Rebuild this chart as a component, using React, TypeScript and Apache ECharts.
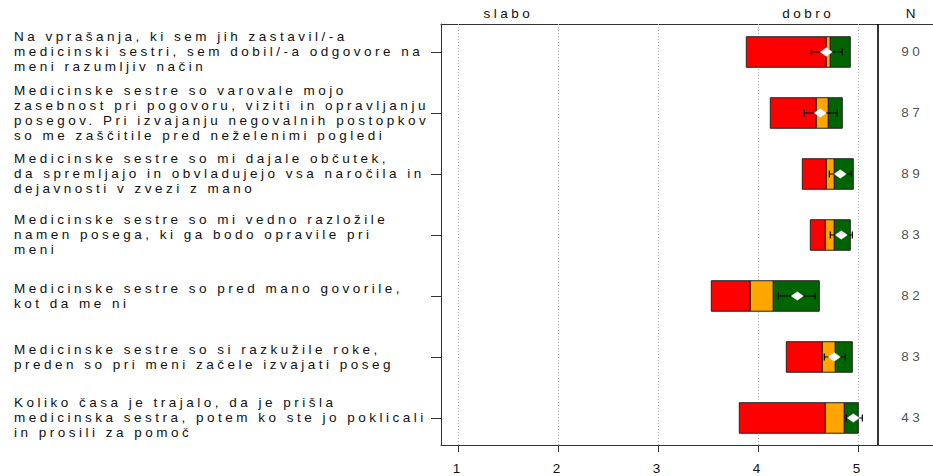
import React, { useEffect, useRef } from "react";
import * as echarts from "echarts";

// ---- data ----
const questionLabels: string[] = [
  "Na vprašanja, ki sem jih zastavil/-a\nmedicinski sestri, sem dobil/-a odgovore na\nmeni razumljiv način",
  "Medicinske sestre so varovale mojo\nzasebnost pri pogovoru, viziti in opravljanju\nposegov. Pri izvajanju negovalnih postopkov\nso me zaščitile pred neželenimi pogledi",
  "Medicinske sestre so mi dajale občutek,\nda spremljajo in obvladujejo vsa naročila in\ndejavnosti v zvezi z mano",
  "Medicinske sestre so mi vedno razložile\nnamen posega, ki ga bodo opravile pri\nmeni",
  "Medicinske sestre so pred mano govorile,\nkot da me ni",
  "Medicinske sestre so si razkužile roke,\npreden so pri meni začele izvajati poseg",
  "Koliko časa je trajalo, da je prišla\nmedicinska sestra, potem ko ste jo poklicali\nin prosili za pomoč",
];
const barStart: number[] = [3.88, 4.12, 4.44, 4.52, 3.53, 4.28, 3.81];
const redEnd: number[] = [4.68, 4.58, 4.68, 4.67, 3.92, 4.64, 4.67];
const orangeEnd: number[] = [4.72, 4.70, 4.76, 4.76, 4.15, 4.77, 4.86];
const greenEnd: number[] = [4.92, 4.84, 4.95, 4.92, 4.61, 4.94, 5.0];
const meanValues: number[] = [4.68, 4.62, 4.82, 4.83, 4.39, 4.76, 4.95];
const ciLow: number[] = [4.53, 4.46, 4.71, 4.72, 4.2, 4.66, 4.88];
const ciHigh: number[] = [4.84, 4.79, 4.93, 4.94, 4.57, 4.87, 5.04];
const nValues: number[] = [90, 87, 89, 83, 82, 83, 43];
const xTickValues: number[] = [1, 2, 3, 4, 5];
const headerLabels: string[] = ["slabo", "dobro", "N"];
const headerPositions: number[] = [1.5, 4.5, 5.54];
const separatorX = 5.19;
const nColumnX = 5.54;

const ROWS = questionLabels.length;
const rowY = (i: number) => ROWS - i;

export default function App() {
  const ref = useRef<HTMLDivElement>(null);
  useEffect(() => {
    if (!ref.current) return;
    const chart = echarts.init(ref.current, null, { renderer: "svg" });
    const barData = questionLabels.map((_, i) => [
      rowY(i),
      barStart[i],
      redEnd[i],
      orangeEnd[i],
      greenEnd[i],
      meanValues[i],
      ciLow[i],
      ciHigh[i],
    ]);
    const nData = nValues.map((n, i) => [nColumnX, rowY(i), n]);
    const font = "'Liberation Sans', Arial, Helvetica, sans-serif";
    const option: any = {
      animation: false,
      backgroundColor: "#ffffff",
      grid: { left: 441, right: 0, top: 24, bottom: 31, containLabel: false },
      xAxis: [
        {
          type: "value",
          position: "bottom",
          min: 0.827,
          max: 5.747,
          axisLine: { show: true, lineStyle: { color: "#333", width: 1 } },
          axisTick: { show: true, customValues: xTickValues, length: 7, lineStyle: { color: "#333" } },
          axisLabel: {
            show: true,
            customValues: xTickValues,
            margin: 16,
            fontSize: 13.5,
            fontFamily: font,
            color: "#111",
            formatter: (v: number) => String(Math.round(v)),
          },
          splitLine: { show: false },
        },
        {
          type: "value",
          position: "top",
          min: 0.827,
          max: 5.747,
          axisLine: { show: true, lineStyle: { color: "#333", width: 1 } },
          axisTick: { show: false },
          axisLabel: {
            show: true,
            customValues: headerPositions,
            margin: 4,
            fontSize: 13.5,
            fontFamily: font,
            color: "#111",
            formatter: (v: number) => {
              let best = 0;
              headerPositions.forEach((p, k) => {
                if (Math.abs(p - v) < Math.abs(headerPositions[best] - v)) best = k;
              });
              return headerLabels[best];
            },
          },
          splitLine: { show: false },
        },
      ],
      yAxis: {
        type: "value",
        min: 0.557,
        max: 7.459,
        axisLine: { show: true, lineStyle: { color: "#333", width: 1 } },
        axisTick: {
          show: true,
          customValues: questionLabels.map((_, i) => rowY(i)),
          length: 10,
          lineStyle: { color: "#333" },
        },
        axisLabel: {
          show: true,
          customValues: questionLabels.map((_, i) => rowY(i)),
          align: "left",
          margin: 427,
          fontSize: 13.5,
          lineHeight: 15,
          padding: [4, 0, 0, 0],
          fontFamily: font,
          color: "#111",
          formatter: (v: number) => questionLabels[ROWS - Math.round(v)] || "",
        },
        splitLine: { show: false },
      },
      series: [
        {
          type: "scatter",
          name: "N",
          xAxisIndex: 0,
          data: nData,
          symbolSize: 0,
          z: 1,
          silent: true,
          label: {
            show: true,
            position: "inside",
            fontSize: 13.5,
            fontFamily: font,
            color: "#222",
            formatter: (p: any) => String(p.value[2]),
          },
          markLine: {
            silent: true,
            symbol: ["none", "none"],
            label: { show: false },
            z: 1,
            data: [
              ...xTickValues.map((x) => ({
                xAxis: x,
                lineStyle: { color: "#aaaaaa", type: [1, 2], width: 1 },
              })),
              { xAxis: separatorX, lineStyle: { color: "#000", type: "solid", width: 1.6 } },
            ],
          },
        },
        {
          type: "custom",
          name: "bars",
          xAxisIndex: 0,
          z: 5,
          silent: true,
          data: barData,
          encode: { x: [1, 2, 3, 4, 5, 6, 7], y: 0 },
          renderItem: (params: any, api: any) => {
            const y = api.value(0);
            const s = api.value(1);
            const r = api.value(2);
            const o = api.value(3);
            const g = api.value(4);
            const m = api.value(5);
            const lo = api.value(6);
            const hi = api.value(7);
            const h = api.size([0, 0.5])[1];
            const X = (v: number) => api.coord([v, y])[0];
            const yc = api.coord([s, y])[1];
            const top = yc - h / 2;
            const seg = (a: number, b: number, fill: string) => ({
              type: "rect",
              shape: { x: X(a), y: top, width: X(b) - X(a), height: h },
              style: { fill, stroke: "#222", lineWidth: 1 },
            });
            const xm = X(m);
            const xl = X(lo);
            const xh = X(hi);
            const cap = 3.5;
            return {
              type: "group",
              children: [
                seg(s, r, "#FF0000"),
                seg(r, o, "#FFA500"),
                seg(o, g, "#006400"),
                {
                  type: "line",
                  shape: { x1: xl, y1: yc, x2: xh, y2: yc },
                  style: { stroke: "#000", lineWidth: 1 },
                },
                {
                  type: "line",
                  shape: { x1: xl, y1: yc - cap, x2: xl, y2: yc + cap },
                  style: { stroke: "#000", lineWidth: 1.2 },
                },
                {
                  type: "line",
                  shape: { x1: xh, y1: yc - cap, x2: xh, y2: yc + cap },
                  style: { stroke: "#000", lineWidth: 1.2 },
                },
                {
                  type: "polygon",
                  shape: {
                    points: [
                      [xm - 6, yc],
                      [xm, yc - 4.2],
                      [xm + 6, yc],
                      [xm, yc + 4.2],
                    ],
                  },
                  style: { fill: "#ffffff", stroke: "#ffffff", lineWidth: 0.5 },
                },
              ],
            };
          },
        },
      ],
    };
    chart.setOption(option);
    return () => chart.dispose();
  }, []);
  return (
    <>
      <style>{"#chart-box svg text{letter-spacing:3.5px}"}</style>
      <div
        id="chart-box"
        ref={ref}
        style={{ position: "absolute", left: 0, top: 0, width: 933, height: 476, background: "#fff" }}
      />
    </>
  );
}
